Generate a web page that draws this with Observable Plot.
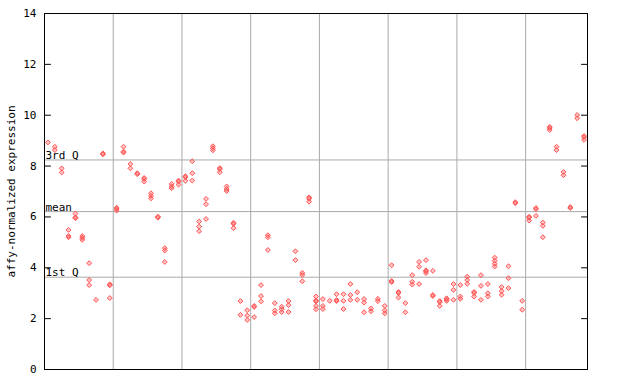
<!DOCTYPE html>
<html><head><meta charset="utf-8">
<script src="https://cdn.jsdelivr.net/npm/d3@7"></script>
<script src="https://cdn.jsdelivr.net/npm/@observablehq/plot@0.6"></script>
<style>body{margin:0;background:#fff}</style>
</head><body><div id="chart"></div>
<script>
// expression values per sample (each inner list = replicates of one sample), in groups of 10
const group1 = [[8.93],[8.76,8.63],[7.91,7.75],[5.49,5.25,5.20],[6.13,5.98,5.95],[5.25,5.18,5.10],[4.18,3.52,3.32],[2.74],[8.50,8.46],[3.35,3.31,2.81]];
const group2 = [[6.36,6.32,6.25],[8.76,8.57,8.53],[8.08,7.91],[7.72,7.68],[7.53,7.49,7.39],[6.93,6.83,6.73],[6.01,5.97],[4.77,4.68,4.23],[7.30,7.20,7.13],[7.43,7.39,7.27]];
const group3 = [[7.60,7.56,7.42],[8.19,7.72,7.43],[5.82,5.62,5.44],[6.71,6.50,5.92],[8.78,8.70,8.62],[7.92,7.88,7.76],[7.20,7.10,7.02],[5.77,5.73,5.56],[2.69,2.15],[2.33,2.12,1.95]];
const group4 = [[2.50,2.46,2.06],[3.32,2.89,2.68],[5.28,5.20,4.70],[2.61,2.32,2.21],[2.47,2.37,2.26],[2.69,2.53,2.26],[4.65,4.30],[3.80,3.72,3.47],[6.77,6.72,6.60],[2.87,2.72,2.68,2.50,2.37]];
const group5 = [[2.77,2.50,2.38],[2.70],[2.96,2.73,2.69],[2.96,2.70,2.38],[3.36,2.93,2.74],[3.04,2.74],[2.77,2.63,2.25],[2.40,2.29],[2.78,2.69],[2.50,2.32,2.21]];
const group6 = [[4.10,3.48,3.44],[3.05,3.01,2.83],[2.61,2.25],[3.71,3.45,3.34],[4.23,4.04,3.36],[4.30,3.90,3.86,3.79],[3.88,2.93,2.89],[2.69,2.65,2.50],[2.80,2.76,2.70],[3.36,3.13,2.74]];
const group7 = [[3.32,2.87,2.78],[3.65,3.52,3.37],[3.05,3.01,2.87],[3.71,3.29,2.74],[3.36,3.00,2.87],[4.40,4.28,4.16,4.05],[3.24,3.08,2.94],[4.06,3.59,3.20],[6.58,6.54],[2.70,2.35]];
const group8 = [[6.01,5.97,5.86],[6.35,6.31,6.04],[5.78,5.65,5.20],[9.54,9.50,9.42],[8.76,8.63],[7.77,7.64],[6.39,6.35],[10.01,9.88],[9.18,9.14,9.03]];

const yTicks = [0,2,4,6,8,10,12,14];
const refLabels = ["3rd Q","mean","1st Q"];
const refValues = [8.24,6.21,3.63];
const yLabel = "affy-normalized expression";

const groups = [group1,group2,group3,group4,group5,group6,group7,group8];
const points = [];
const boundaries = [];
let offset = 0;
groups.forEach((g, gi) => {
  g.forEach((col, ci) => col.forEach(v => points.push({x: offset + ci, y: v})));
  offset += g.length;
  if (gi < groups.length - 1) boundaries.push(offset - 0.5);
});
const nSamples = offset;
const refs = refLabels.map((label, i) => ({label, value: refValues[i]}));

const red = "#ff5555";
const grid = "#aaaaaa";
const tickLine = {draw(context, l) { context.moveTo(0, 0); context.lineTo(0, -l); }};

const chart = Plot.plot({
  width: 640,
  height: 384,
  marginLeft: 44,
  marginRight: 53,
  marginTop: 13,
  marginBottom: 15,
  style: {fontFamily: "'DejaVu Sans Mono', monospace", fontSize: "11px", background: "#fff", color: "black"},
  x: {domain: [-0.5, nSamples - 0.5], axis: null},
  y: {domain: [0, 14]},
  marks: [
    Plot.ruleX(boundaries, {stroke: grid, strokeWidth: 1}),
    Plot.ruleY(refs, {y: "value", stroke: grid, strokeWidth: 1}),
    Plot.text(refs, {y: "value", text: "label", frameAnchor: "left", textAnchor: "start", lineAnchor: "bottom", dx: 1, dy: -1, fill: "black"}),
    Plot.dot(points, {x: "x", y: "y", symbol: "diamond2", r: 2.2, stroke: red, strokeWidth: 1, fill: red, fillOpacity: 0.35}),
    Plot.frame({stroke: "black"}),
    Plot.axisY(yTicks, {anchor: "left", tickSize: 0, tickPadding: 8, label: null}),
    Plot.vector(yTicks, {y: d => d, frameAnchor: "left", length: 6, rotate: 90, anchor: "start", shape: tickLine, stroke: "black", strokeWidth: 1}),
    Plot.vector(yTicks, {y: d => d, frameAnchor: "right", length: 6, rotate: -90, anchor: "start", shape: tickLine, stroke: "black", strokeWidth: 1}),
    Plot.text([yLabel], {text: d => d, frameAnchor: "left", textAnchor: "middle", rotate: -90, dx: -33, fill: "black"})
  ]
});
document.getElementById("chart").appendChild(chart);
</script>
</body></html>
